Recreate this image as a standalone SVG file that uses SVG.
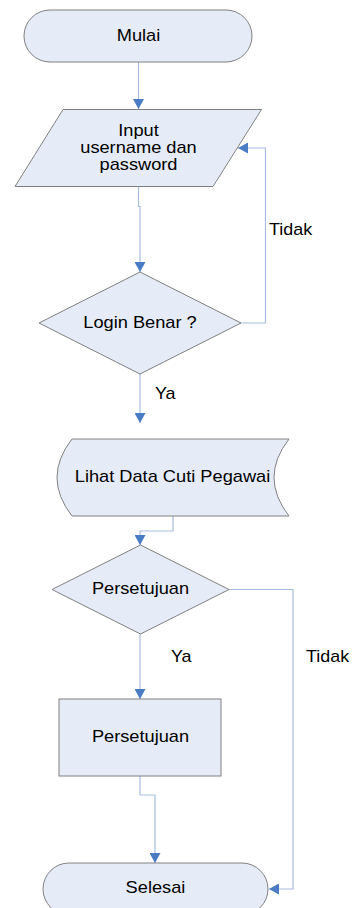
<svg xmlns="http://www.w3.org/2000/svg" width="354" height="908" viewBox="0 0 354 908">
<style>
.shape{fill:#E6ECF7;stroke:#808080;stroke-width:1}
.lbl{font-family:"Liberation Sans",Arial,sans-serif;font-size:16px;fill:#000;text-anchor:middle}
.edge{font-family:"Liberation Sans",Arial,sans-serif;font-size:16px;fill:#000}
.conn{fill:none;stroke:#A8BCE0;stroke-width:1.2}
</style>
<defs>
<marker id="arr" markerUnits="userSpaceOnUse" markerWidth="11" markerHeight="11" refX="10" refY="5.5" orient="auto">
<path d="M0,0 L10,5.5 L0,11 z" fill="#4A7CC6"/>
</marker>
</defs>
<rect width="354" height="908" fill="#fff"/>
<g id="connectors">
<path class="conn" d="M138.5,62 V109" marker-end="url(#arr)"/>
<path class="conn" d="M138.5,187 V206.5 H140 V272" marker-end="url(#arr)"/>
<path class="conn" d="M241,323 H265.5 V148 H238" marker-end="url(#arr)"/>
<path class="conn" d="M140,374 V423" marker-end="url(#arr)"/>
<path class="conn" d="M173,516 V531 H140 V545" marker-end="url(#arr)"/>
<path class="conn" d="M140,634 V699" marker-end="url(#arr)"/>
<path class="conn" d="M229,589.5 H293 V889 H269" marker-end="url(#arr)"/>
<path class="conn" d="M140,776 V795 H155 V863" marker-end="url(#arr)"/>
<text class="edge" transform="translate(269,235) scale(1.12,1)">Tidak</text>
<text class="edge" transform="translate(155,399) scale(1.12,1)">Ya</text>
<text class="edge" transform="translate(171,662) scale(1.12,1)">Ya</text>
<text class="edge" transform="translate(306,662) scale(1.12,1)">Tidak</text>
</g>
<g id="mulai">
<rect class="shape" x="24" y="10" width="228" height="52" rx="26" ry="26"/>
<text class="lbl" transform="translate(138.5,41) scale(1.14,1)">Mulai</text>
</g>
<g id="input">
<polygon class="shape" points="63,109.5 261.5,109.5 213,186.5 15,186.5"/>
<text class="lbl" transform="translate(138.5,135.5) scale(1.14,1)">Input</text>
<text class="lbl" transform="translate(138.5,152.5) scale(1.14,1)">username dan</text>
<text class="lbl" transform="translate(138.5,169.5) scale(1.14,1)">password</text>
</g>
<g id="login">
<polygon class="shape" points="140,272 241,323 140,374 39,323"/>
<text class="lbl" transform="translate(140,328) scale(1.14,1)">Login Benar ?</text>
</g>
<g id="lihat">
<path class="shape" d="M72,439 L289,439 Q259,477.5 289,516 L72,516 Q42,477.5 72,439 Z"/>
<text class="lbl" transform="translate(172.5,482) scale(1.14,1)">Lihat Data Cuti Pegawai</text>
</g>
<g id="persetujuan-decision">
<polygon class="shape" points="140.5,545 229,589.5 140.5,634 52,589.5"/>
<text class="lbl" transform="translate(140.5,594) scale(1.14,1)">Persetujuan</text>
</g>
<g id="persetujuan-process">
<rect class="shape" x="59" y="699" width="162" height="77"/>
<text class="lbl" transform="translate(140.5,742) scale(1.14,1)">Persetujuan</text>
</g>
<g id="selesai">
<rect class="shape" x="43" y="863" width="225" height="52" rx="26" ry="26"/>
<text class="lbl" transform="translate(155.5,893) scale(1.14,1)">Selesai</text>
</g>
</svg>
